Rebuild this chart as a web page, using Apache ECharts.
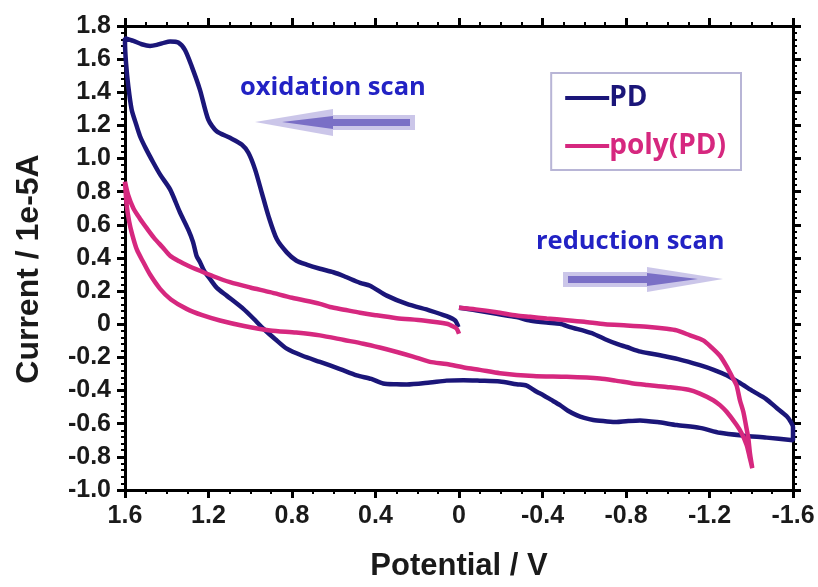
<!DOCTYPE html>
<html>
<head>
<meta charset="utf-8">
<script src="https://cdn.jsdelivr.net/npm/echarts@6/dist/echarts.min.js"></script>
<style>html,body{margin:0;padding:0;background:#fff}#c{width:818px;height:587px}</style>
</head>
<body>
<div id="c"></div>
<script>
// Tick labels
const xTicks = [1.6, 1.2, 0.8, 0.4, 0, -0.4, -0.8, -1.2, -1.6];
const yTicks = [1.8, 1.6, 1.4, 1.2, 1.0, 0.8, 0.6, 0.4, 0.2, 0, -0.2, -0.4, -0.6, -0.8, -1.0];

// PD: potential (V) and current (1e-5 A), in scan order
const pdPotential = [
  0.0, -0.08, -0.18, -0.276, -0.34, -0.42, -0.484, -0.532, -0.6, -0.643, -0.70, -0.76, -0.803, -0.87, -0.963, -1.05, -1.154, -1.22, -1.282, -1.34, -1.41, -1.47, -1.522, -1.57, -1.59, -1.6,
  -1.6, -1.474, -1.362, -1.25, -1.154, -1.043, -0.95, -0.867, -0.80, -0.755, -0.70, -0.643, -0.60, -0.563, -0.52, -0.484, -0.44, -0.404, -0.372, -0.324, -0.276, -0.196, -0.10, -0.021, 0.06, 0.139, 0.25, 0.30, 0.363, 0.42, 0.49, 0.57, 0.666, 0.75, 0.825, 0.88, 0.937, 0.985, 1.033, 1.113, 1.16, 1.193, 1.22, 1.241, 1.257, 1.274, 1.298, 1.337, 1.384, 1.43, 1.464, 1.50, 1.528, 1.55, 1.568, 1.584, 1.595, 1.6,
  1.6, 1.56, 1.52, 1.48, 1.448, 1.41, 1.384, 1.345, 1.313, 1.28, 1.241, 1.201, 1.161, 1.097, 1.041, 1.009, 0.977, 0.945, 0.913, 0.873, 0.825, 0.78, 0.73, 0.666, 0.602, 0.55, 0.474, 0.426, 0.346, 0.25, 0.139, 0.059, 0.019, 0.003
];
const pdCurrent = [
  0.10, 0.085, 0.063, 0.043, 0.023, 0.01, 0.003, -0.017, -0.04, -0.057, -0.09, -0.12, -0.137, -0.165, -0.187, -0.21, -0.247, -0.275, -0.308, -0.35, -0.405, -0.45, -0.505, -0.555, -0.59, -0.62,
  -0.70, -0.684, -0.672, -0.655, -0.625, -0.608, -0.59, -0.58, -0.585, -0.59, -0.585, -0.578, -0.565, -0.548, -0.52, -0.488, -0.455, -0.428, -0.407, -0.37, -0.362, -0.345, -0.34, -0.337, -0.34, -0.351, -0.363, -0.362, -0.357, -0.33, -0.308, -0.27, -0.227, -0.19, -0.147, -0.09, -0.027, 0.035, 0.093, 0.173, 0.22, 0.274, 0.32, 0.376, 0.412, 0.496, 0.574, 0.676, 0.814, 0.90, 0.975, 1.06, 1.135, 1.22, 1.295, 1.435, 1.576, 1.70,
  1.726, 1.71, 1.69, 1.68, 1.686, 1.70, 1.706, 1.70, 1.656, 1.555, 1.415, 1.235, 1.165, 1.125, 1.085, 1.035, 0.935, 0.795, 0.654, 0.514, 0.434, 0.385, 0.36, 0.335, 0.314, 0.29, 0.25, 0.233, 0.173, 0.123, 0.083, 0.049, 0.023, -0.017
];

// poly(PD): potential (V) and current (1e-5 A), in scan order
const polyPotential = [
  0.0, -0.08, -0.18, -0.276, -0.34, -0.42, -0.516, -0.6, -0.70, -0.803, -0.9, -0.995, -1.043, -1.107, -1.17, -1.21, -1.25, -1.28, -1.314, -1.33, -1.346, -1.362, -1.376, -1.386, -1.394, -1.405,
  -1.392, -1.378, -1.355, -1.33, -1.282, -1.25, -1.218, -1.154, -1.1, -0.995, -0.9, -0.835, -0.75, -0.675, -0.516, -0.356, -0.196, -0.10, -0.03, 0.06, 0.139, 0.22, 0.298, 0.38, 0.458, 0.55, 0.666, 0.78, 0.905, 1.03, 1.145, 1.23, 1.305, 1.38, 1.432, 1.48, 1.512, 1.543, 1.565, 1.58, 1.592, 1.6,
  1.585, 1.56, 1.53, 1.496, 1.46, 1.42, 1.384, 1.34, 1.30, 1.241, 1.177, 1.097, 1.0, 0.905, 0.8, 0.666, 0.618, 0.55, 0.474, 0.4, 0.298, 0.171, 0.059, 0.025, 0.011, 0.0
];
const polyCurrent = [
  0.10, 0.09, 0.073, 0.053, 0.045, 0.035, 0.025, 0.015, 0.0, -0.007, -0.015, -0.027, -0.037, -0.067, -0.097, -0.14, -0.19, -0.25, -0.33, -0.37, -0.46, -0.528, -0.62, -0.688, -0.78, -0.868,
  -0.80, -0.728, -0.66, -0.608, -0.528, -0.488, -0.458, -0.418, -0.395, -0.378, -0.366, -0.357, -0.34, -0.327, -0.317, -0.312, -0.295, -0.275, -0.262, -0.24, -0.227, -0.195, -0.167, -0.14, -0.117, -0.095, -0.067, -0.05, -0.037, -0.01, 0.023, 0.055, 0.093, 0.15, 0.214, 0.30, 0.374, 0.45, 0.54, 0.62, 0.72, 0.86,
  0.78, 0.70, 0.64, 0.58, 0.52, 0.465, 0.414, 0.38, 0.355, 0.323, 0.29, 0.254, 0.222, 0.194, 0.16, 0.123, 0.104, 0.088, 0.07, 0.055, 0.037, 0.023, 0.003, -0.015, -0.027, -0.057
];

const seriesNames = ['PD', 'poly(PD)'];
const seriesColors = ['#1b1679', '#d6287f'];

const zip = (a, b) => a.map((v, i) => [v, b[i]]);
const fmt = v => (Math.abs(v) < 1e-9 ? '0' : (+v).toFixed(1));

const chart = echarts.init(document.getElementById('c'), null, {renderer: 'canvas'});

const tickCommon = {
  axisLine: {show: true, onZero: false, lineStyle: {color: '#000', width: 3}},
  axisTick: {show: true, inside: false, length: 8, lineStyle: {color: '#000', width: 3}},
  splitLine: {show: false}
};
const xMinor = {minorTick: {show: true, splitNumber: 4, length: 4, lineStyle: {color: '#000', width: 2}}};
const yMinor = {minorTick: {show: true, splitNumber: 5, length: 4, lineStyle: {color: '#000', width: 2}}};

const labelStyle = {fontFamily: 'Liberation Sans, Arial, sans-serif', fontWeight: 'bold', fontSize: 25, color: '#1a1a1a'};
const titleStyle = {fontFamily: 'Liberation Sans, Arial, sans-serif', fontWeight: 'bold', fontSize: 31, color: '#1a1a1a'};

chart.setOption({
  backgroundColor: '#fff',
  animation: false,
  grid: {left: 125, right: 25, top: 26, bottom: 95, containLabel: false},
  legend: {
    orient: 'vertical',
    right: 77, top: 73,
    padding: [9, 15, 8, 14],
    borderColor: '#b8b5d6', borderWidth: 2,
    icon: 'rect', itemWidth: 44, itemHeight: 4, itemGap: 16,
    textStyle: {fontFamily: 'Open Sans, sans-serif', fontWeight: 'bold', fontSize: 28, lineHeight: 32, padding: [0, 0, 0, -5]},
    data: [
      {name: seriesNames[0], textStyle: {color: seriesColors[0]}},
      {name: seriesNames[1], textStyle: {color: seriesColors[1]}}
    ]
  },
  xAxis: [
    Object.assign({
      type: 'value', position: 'bottom', inverse: true, min: -1.6, max: 1.6, interval: 0.4,
      axisLabel: Object.assign({margin: 14, formatter: fmt}, labelStyle),
      name: 'Potential / V', nameLocation: 'middle', nameGap: 61,
      nameTextStyle: titleStyle
    }, tickCommon, xMinor),
    Object.assign({
      type: 'value', position: 'top', inverse: true, min: -1.6, max: 1.6, interval: 0.4,
      axisLabel: {show: false}
    }, tickCommon, xMinor)
  ],
  yAxis: [
    Object.assign({
      type: 'value', position: 'left', min: -1.0, max: 1.8, interval: 0.2,
      axisLabel: Object.assign({margin: 14, formatter: fmt}, labelStyle),
      name: 'Current / 1e-5A', nameLocation: 'middle', nameGap: 80, nameRotate: 90,
      nameTextStyle: Object.assign({padding: [0, 22, 0, 0]}, titleStyle, {fontSize: 32})
    }, tickCommon, yMinor),
    Object.assign({
      type: 'value', position: 'right', min: -1.0, max: 1.8, interval: 0.2,
      axisLabel: {show: false}
    }, tickCommon, yMinor)
  ],
  series: [
    {
      name: seriesNames[0], type: 'line', xAxisIndex: 0, yAxisIndex: 0,
      data: zip(pdPotential, pdCurrent), showSymbol: false, smooth: 0.25,
      lineStyle: {color: seriesColors[0], width: 4.5}, itemStyle: {color: seriesColors[0]}
    },
    {
      name: seriesNames[1], type: 'line', xAxisIndex: 0, yAxisIndex: 0,
      data: zip(polyPotential, polyCurrent), showSymbol: false, smooth: 0.25,
      lineStyle: {color: seriesColors[1], width: 4.5}, itemStyle: {color: seriesColors[1]}
    }
  ],
  graphic: [
    {type: 'text', left: 240, top: 75, style: {text: 'oxidation scan', fill: '#2222c4', font: 'bold 25.5px "Open Sans", sans-serif'}},
    {type: 'text', left: 536, top: 229, style: {text: 'reduction scan', fill: '#2222c4', font: 'bold 25.5px "Open Sans", sans-serif'}},
    // oxidation arrow (points left)
    {type: 'polygon', shape: {points: [[255,122],[333,109],[333,115],[415,115],[415,130],[333,130],[333,136]]}, style: {fill: 'rgba(160,152,215,0.55)'}},
    {type: 'polygon', shape: {points: [[282,122],[333,116],[333,119],[410,119],[410,126],[333,126],[333,129]]}, style: {fill: '#7a6fc6'}},
    // reduction arrow (points right)
    {type: 'polygon', shape: {points: [[723,279],[647,267],[647,272],[563,272],[563,287],[647,287],[647,292]]}, style: {fill: 'rgba(160,152,215,0.55)'}},
    {type: 'polygon', shape: {points: [[698,279],[647,273],[647,276],[568,276],[568,283],[647,283],[647,286]]}, style: {fill: '#7a6fc6'}}
  ]
});
</script>
</body>
</html>
